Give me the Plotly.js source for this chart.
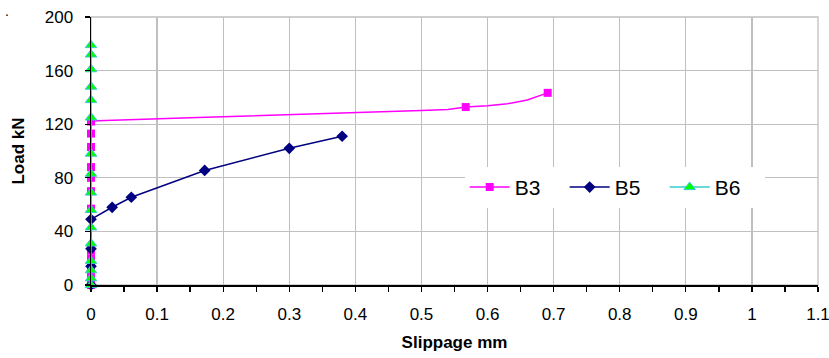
<!DOCTYPE html>
<html><head><meta charset="utf-8">
<script src="https://cdn.plot.ly/plotly-3.0.1.min.js"></script>
<style>html,body{margin:0;padding:0;background:#fff}#chart{width:829px;height:358px}</style>
</head><body><div id="chart"></div>
<script>
// ---- data ----
const seriesNames = ["B3", "B5", "B6"];
const xTickVals = [0, 0.1, 0.2, 0.3, 0.4, 0.5, 0.6, 0.7, 0.8, 0.9, 1, 1.1];
const xTickText = ["0", "0.1", "0.2", "0.3", "0.4", "0.5", "0.6", "0.7", "0.8", "0.9", "1", "1.1"];
const yTickVals = [0, 40, 80, 120, 160, 200];
const yTickText = ["0", "40", "80", "120", "160", "200"];

// B3: points along the drawn curve; b3Measured marks the ones drawn with a marker
const b3Slip = [0, 0, 0, 0, 0, 0, 0, 0, 0, 0, 0, 0, 0,
                0.01, 0.05, 0.10, 0.15, 0.20, 0.25, 0.30, 0.35, 0.40, 0.45, 0.50, 0.54,
                0.567, 0.60, 0.63, 0.66, 0.672, 0.691];
const b3Load = [0, 4, 9, 14, 20, 26, 57, 70, 80, 88, 103, 113, 122,
                122.6, 123.3, 124.4, 124.9, 125.5, 126.2, 127.0, 127.8, 128.5, 129.3, 130.2, 131.0,
                132.8, 133.8, 135.2, 138.0, 140.2, 143.4];
const b3Measured = [1, 1, 1, 1, 1, 1, 1, 1, 1, 1, 1, 1, 1,
                    0, 0, 0, 0, 0, 0, 0, 0, 0, 0, 0, 0,
                    1, 0, 0, 0, 0, 1];

const b5Slip = [0, 0, 0, 0, 0.032, 0.061, 0.172, 0.300, 0.380];
const b5Load = [0, 14, 27, 49, 58, 65.5, 85.5, 102, 111];

const b6Slip = [0, 0, 0, 0, 0, 0, 0, 0, 0, 0, 0, 0, 0, 0, 0, 0];
const b6Load = [0, 5, 11, 18, 31, 43, 56, 69, 83, 98, 125, 138, 148, 161, 172, 179];

// ---- chart ----
const b3Color = "#ff00ff";
const traces = [
  {x: b3Slip, y: b3Load, name: seriesNames[0], type: "scatter", mode: "lines+markers",
   line: {color: b3Color, width: 1.5},
   marker: {symbol: "square", size: 8, color: b3Measured.map(m => m ? b3Color : "rgba(0,0,0,0)")},
   cliponaxis: false},
  {x: b5Slip, y: b5Load, name: seriesNames[1], type: "scatter", mode: "lines+markers",
   line: {color: "#000080", width: 1.5},
   marker: {symbol: "diamond", size: 9, color: "#000080"}, cliponaxis: false},
  {x: b6Slip, y: b6Load, name: seriesNames[2], type: "scatter", mode: "lines+markers",
   line: {color: "#33cccc", width: 1.5},
   marker: {symbol: "triangle-up", size: 10, color: "#00ff00", line: {color: "#33cccc", width: 1}}, cliponaxis: false}
];

const layout = {
  width: 829, height: 358,
  margin: {l: 91, r: 11, t: 17, b: 73, autoexpand: false},
  paper_bgcolor: "#ffffff", plot_bgcolor: "#ffffff",
  font: {family: "Liberation Sans, Arial, sans-serif", color: "#000000"},
  showlegend: true,
  legend: {orientation: "h", x: 0.514, xanchor: "left", y: 0.364, yanchor: "middle",
           bgcolor: "#ffffff", borderwidth: 0, font: {size: 21, color: "#000"},
           entrywidth: 45, entrywidthmode: "pixels", itemwidth: 40, traceorder: "normal"},
  xaxis: {range: [0, 1.1], tickvals: xTickVals, ticktext: xTickText,
          showgrid: true, gridcolor: "#c0c0c0", gridwidth: 1.3,
          showline: true, linecolor: "#000", linewidth: 1.5, zeroline: false,
          ticks: "outside", ticklen: 5, tickcolor: "#000", tickwidth: 1.3,
          minor: {dtick: 0.05, tick0: 0, ticks: "outside", ticklen: 5, tickcolor: "#000", tickwidth: 1.3, showgrid: false},
          tickfont: {size: 17}, ticklabelstandoff: 8, ticklabeloverflow: "allow",
          title: {text: "<b>Slippage mm</b>", font: {size: 17}, standoff: 13}},
  yaxis: {range: [0, 200], tickvals: yTickVals, ticktext: yTickText,
          showgrid: true, gridcolor: "#c0c0c0", gridwidth: 1.3,
          showline: true, linecolor: "#000", linewidth: 1.5, zeroline: false,
          ticks: "outside", ticklen: 5, tickcolor: "#000", tickwidth: 1.3,
          tickfont: {size: 17}, ticklabelstandoff: 8,
          title: {text: "<b>Load kN</b>", font: {size: 17}, standoff: 16}},
  shapes: [{type: "rect", xref: "paper", yref: "paper", x0: 0, x1: 1, y0: 0, y1: 1,
            line: {color: "#c0c0c0", width: 1.3}, layer: "below"}],
  annotations: [{text: ".", xref: "paper", yref: "paper", x: -0.116, y: 1.058,
                 showarrow: false, font: {size: 14}, xanchor: "center", yanchor: "top"}]
};

Plotly.newPlot("chart", traces, layout, {displayModeBar: false, staticPlot: true});
</script>
</body></html>
